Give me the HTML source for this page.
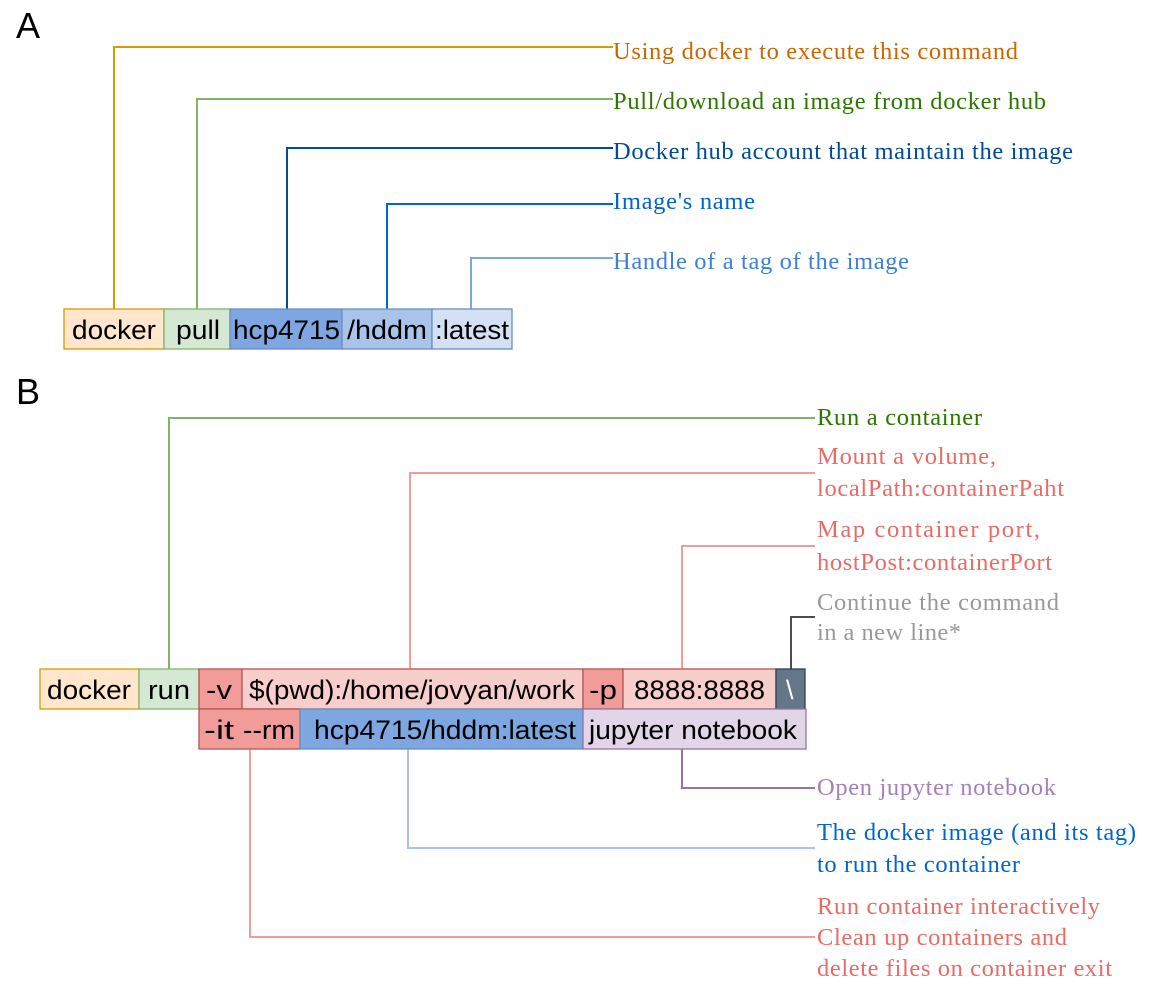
<!DOCTYPE html>
<html><head><style>body{margin:0;background:#fff}svg{display:block}</style></head><body>
<svg width="1156" height="988" xmlns="http://www.w3.org/2000/svg">
<g font-family="Liberation Sans, sans-serif" font-size="36" fill="#000">
<text x="16" y="38">A</text><text x="16" y="404">B</text></g>
<g fill="none" stroke-width="2">
<polyline points="114,309 114,47 613,47" stroke="#d79b00"/>
<polyline points="197,309 197,99 613,99" stroke="#82b366"/>
<polyline points="287,309 287,148 613,148" stroke="#004c99"/>
<polyline points="387,309 387,204 613,204" stroke="#0066cc"/>
<polyline points="471,309 471,258 613,258" stroke="#7ea6e0"/>
<polyline points="169,669 169,418 815,418" stroke="#82b366"/>
<polyline points="410,669 410,473 815,473" stroke="#f19c99"/>
<polyline points="682,669 682,546 815,546" stroke="#f19c99"/>
<polyline points="791,669 791,617 815,617" stroke="#4d4d4d"/>
<polyline points="682,749 682,788 815,788" stroke="#9673a6"/>
<polyline points="408,749 408,848 815,848" stroke="#a9c4eb"/>
<polyline points="250,749 250,937 815,937" stroke="#f19c99"/>
</g>
<g stroke-width="1.3">
<rect x="64" y="309" width="100" height="40" fill="#ffe6cc" stroke="#d79b00"/>
<rect x="164" y="309" width="66" height="40" fill="#d5e8d4" stroke="#82b366"/>
<rect x="230" y="309" width="112" height="40" fill="#7ea6e0" stroke="#6c8ebf"/>
<rect x="342" y="309" width="90" height="40" fill="#a9c4eb" stroke="#6c8ebf"/>
<rect x="432" y="309" width="80" height="40" fill="#d4e1f5" stroke="#6c8ebf"/>
<rect x="40" y="669" width="99" height="40" fill="#ffe6cc" stroke="#d79b00"/>
<rect x="139" y="669" width="60" height="40" fill="#d5e8d4" stroke="#82b366"/>
<rect x="199" y="669" width="43" height="40" fill="#f19c99" stroke="#b85450"/>
<rect x="242" y="669" width="341" height="40" fill="#f8cecc" stroke="#b85450"/>
<rect x="583" y="669" width="40" height="40" fill="#f19c99" stroke="#b85450"/>
<rect x="623" y="669" width="153" height="40" fill="#f8cecc" stroke="#b85450"/>
<rect x="776" y="669" width="29" height="40" fill="#647687" stroke="#314354"/>
<rect x="199" y="709" width="101" height="40" fill="#f19c99" stroke="#b85450"/>
<rect x="300" y="709" width="283" height="40" fill="#7ea6e0" stroke="#6c8ebf"/>
<rect x="583" y="709" width="223" height="40" fill="#e1d5e7" stroke="#9673a6"/>
</g>
<g font-family="Liberation Sans, sans-serif" font-size="27" fill="#000">
<text x="72" y="339" textLength="84" lengthAdjust="spacingAndGlyphs">docker</text>
<text x="176" y="339" textLength="44" lengthAdjust="spacingAndGlyphs">pull</text>
<text x="233" y="339" textLength="107" lengthAdjust="spacingAndGlyphs">hcp4715</text>
<text x="347" y="339" textLength="80" lengthAdjust="spacingAndGlyphs">/hddm</text>
<text x="435" y="339" textLength="74" lengthAdjust="spacingAndGlyphs">:latest</text>
<text x="47" y="699" textLength="84" lengthAdjust="spacingAndGlyphs">docker</text>
<text x="148" y="699" textLength="42" lengthAdjust="spacingAndGlyphs">run</text>
<text x="206" y="699" textLength="26" lengthAdjust="spacingAndGlyphs">-v</text>
<text x="249" y="699" textLength="326" lengthAdjust="spacingAndGlyphs">$(pwd):/home/jovyan/work</text>
<text x="589" y="699" textLength="28" lengthAdjust="spacingAndGlyphs">-p</text>
<text x="634" y="699" textLength="131" lengthAdjust="spacingAndGlyphs">8888:8888</text>
<text x="786" y="699" fill="#fff">\</text>
<text x="204" y="739" textLength="30" lengthAdjust="spacingAndGlyphs">-it</text>
<text x="243" y="739" textLength="52" lengthAdjust="spacingAndGlyphs">--rm</text>
<text x="314" y="739" textLength="262" lengthAdjust="spacingAndGlyphs">hcp4715/hddm:latest</text>
<text x="589" y="739" textLength="208" lengthAdjust="spacingAndGlyphs">jupyter notebook</text>
</g>
<g font-family="Liberation Serif, serif" font-size="24.5" lengthAdjust="spacingAndGlyphs">
<text x="613" y="59" fill="#cc6600" textLength="405">Using docker to execute this command</text>
<text x="613" y="109" fill="#2d7600" textLength="433">Pull/download an image from docker hub</text>
<text x="613" y="159" fill="#004c99" textLength="460">Docker hub account that maintain the image</text>
<text x="613" y="209" fill="#0066cc" textLength="142">Image's name</text>
<text x="613" y="269" fill="#3d7fdb" textLength="296">Handle of a tag of the image</text>
<text x="817" y="425" fill="#2d7600" textLength="165">Run a container</text>
<text x="817" y="464" fill="#ea6b66" textLength="179">Mount a volume,</text>
<text x="817" y="496" fill="#ea6b66" textLength="247">localPath:containerPaht</text>
<text x="817" y="537" fill="#ea6b66" textLength="223">Map container port,</text>
<text x="817" y="570" fill="#ea6b66" textLength="235">hostPost:containerPort</text>
<text x="817" y="610" fill="#999" textLength="242">Continue the command</text>
<text x="817" y="640" fill="#999" textLength="144">in a new line*</text>
<text x="817" y="795" fill="#a680b8" textLength="239">Open jupyter notebook</text>
<text x="817" y="840" fill="#0066cc" textLength="319">The docker image (and its tag)</text>
<text x="817" y="872" fill="#0066cc" textLength="203">to run the container</text>
<text x="817" y="914" fill="#ea6b66" textLength="283">Run container interactively</text>
<text x="817" y="945" fill="#ea6b66" textLength="250">Clean up containers and</text>
<text x="817" y="976" fill="#ea6b66" textLength="295">delete files on container exit</text>
</g>
</svg>
</body></html>
